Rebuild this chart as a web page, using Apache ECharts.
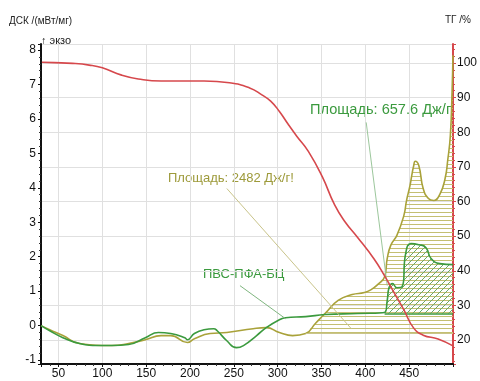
<!DOCTYPE html>
<html><head><meta charset="utf-8">
<script src="https://cdn.jsdelivr.net/npm/echarts@6/dist/echarts.min.js"></script>
<style>html,body{margin:0;padding:0;background:#fff}#c{width:480px;height:381px}</style>
</head><body><div id="c"></div>
<script>
// ---- data ----
// TG (%) vs temperature
const tgX = [31,45,66,85,100,122,141,167,216,245,268,282,292,302,312,322,335,351,365,377,391,410,422,433,444,455,466,483,500];
const tgY = [100.2,100.1,99.9,99.4,98.6,96.5,95.4,94.8,94.8,94.3,92.8,90.8,89.0,86.0,82.3,78.8,74.5,67.1,59.0,54.1,49.7,43.4,38.5,33.6,28.7,23.5,21.4,20.3,18.3];
// DSC green (ПВС-ПФА-БЦ)
const greenX = [30,40,55,74,96,111,130,149,164,178,194,197,205,216,227,231,242,253,261,276,287,302,309,332,354,391,422,425,427,431,436,442,446,452,461,469,475,485,500];
const greenY = [0,-0.15,-0.35,-0.52,-0.58,-0.58,-0.55,-0.35,-0.2,-0.23,-0.35,-0.41,-0.23,-0.12,-0.09,-0.15,-0.44,-0.64,-0.58,-0.29,-0.06,0.17,0.23,0.26,0.32,0.35,0.38,0.73,1.1,1.22,1.1,1.13,2.09,2.38,2.35,2.27,1.95,1.8,1.77];
// DSC olive
const oliveX = [30,40,55,74,111,130,149,167,178,197,205,223,242,272,287,302,317,332,343,354,369,385,399,407,414,422,425,429,436,444,447,451,453,455,457,461,466,472,478,485,491,494,497,499,500];
const oliveY = [0,-0.12,-0.29,-0.52,-0.58,-0.52,-0.41,-0.29,-0.29,-0.49,-0.38,-0.23,-0.2,-0.09,-0.06,-0.2,-0.29,-0.23,0.06,0.35,0.73,0.9,0.96,1.05,1.19,1.42,1.95,2.33,2.62,3.2,3.63,4.07,4.36,4.62,4.77,4.65,3.98,3.69,3.63,3.81,4.27,4.8,5.52,6.83,7.85];
// integration ranges / baselines
const oliveAreaFrom = 332, oliveBase = -0.22;
const greenAreaFrom = 422, greenBase = 0.35;
// annotation leader lines (data coords)
const leaderOlive = [[242,3.98],[384,-0.09]];
const leaderGreenArea = [[401,5.9],[425,1.16]];
const leaderGreenName = [[257,1.16],[309,0.2]];
// axis ranges
const xMin = 30, xMax = 500;
const dscMin = -1.115, dscMax = 8.176;
const tgMin = 13.07, tgMax = 105.49;

const zip = (a,b)=>a.map((v,i)=>[v,b[i]]);
const sub = (a,b,from)=>zip(a,b).filter(p=>p[0]>=from);

function hPattern(color, gap){const c=document.createElement('canvas');c.width=8;c.height=gap;const g=c.getContext('2d');g.fillStyle=color;g.fillRect(0,0,8,1);return c;}
function dPattern(color, s){const c=document.createElement('canvas');c.width=s;c.height=s;const g=c.getContext('2d');g.strokeStyle=color;g.lineWidth=1;g.beginPath();g.moveTo(-1,s+1);g.lineTo(s+1,-1);g.stroke();return c;}

const RED='#d6484c', GREEN='#3b9a3e', OLIVE='#a9a23a', OLIVE_T='#9d9a3a';
const FONT='"Liberation Sans",Arial,sans-serif';

const chart = echarts.init(document.getElementById('c'), null, {renderer:'canvas'});
chart.setOption({
  animation:false,
  backgroundColor:'#fff',
  grid:{left:41,right:20,top:44,bottom:17,containLabel:false},
  xAxis:{type:'value',min:xMin,max:xMax,splitNumber:10,
    axisLine:{onZero:false,lineStyle:{color:'#111',width:2}},
    axisTick:{show:true,length:3,lineStyle:{color:'#111'}},
    minorTick:{show:true,splitNumber:5,length:2,lineStyle:{color:'#333'}},
    axisLabel:{showMinLabel:false,showMaxLabel:false,color:'#111',fontSize:12,fontFamily:FONT,margin:4},
    splitLine:{show:true,lineStyle:{color:'#e0e0e0',width:1}}},
  yAxis:[
    {type:'value',min:dscMin,max:dscMax,splitNumber:9,position:'left',
     axisLine:{show:true,onZero:false,lineStyle:{color:'#111',width:2}},
     axisTick:{show:true,length:3,lineStyle:{color:'#111'}},
     minorTick:{show:true,splitNumber:5,length:2,lineStyle:{color:'#333'}},
     axisLabel:{showMinLabel:false,showMaxLabel:false,color:'#111',fontSize:12,fontFamily:FONT,margin:5},
     splitLine:{show:false}},
    {type:'value',min:tgMin,max:tgMax,splitNumber:9,position:'right',
     axisLine:{show:true,onZero:false,lineStyle:{color:RED,width:2}},
     axisTick:{show:true,length:3,lineStyle:{color:RED}},
     minorTick:{show:true,splitNumber:5,length:2,lineStyle:{color:RED}},
     axisLabel:{showMinLabel:false,showMaxLabel:false,color:'#111',fontSize:12,fontFamily:FONT,margin:4},
     splitLine:{show:true,lineStyle:{color:'#e0e0e0',width:1}}}
  ],
  graphic:[
    {type:'text',left:9,top:16,style:{text:'ДСК /(мВт/мг)',font:'10px '+FONT,fill:'#222'}},
    {type:'text',left:41,top:35,style:{text:'↑ экзо',font:'11px '+FONT,fill:'#222'}},
    {type:'text',left:445,top:15,style:{text:'ТГ /%',font:'10px '+FONT,fill:'#222'}},
    {type:'text',left:310,top:102,style:{text:'Площадь: 657.6 Дж/г',font:'14.6px '+FONT,fill:GREEN}},
    {type:'text',left:168,top:172,style:{text:'Площадь: 2482 Дж/г!',font:'13px '+FONT,fill:OLIVE_T}},
    {type:'text',left:203,top:268,style:{text:'ПВС-ПФА-БЦ',font:'13px '+FONT,fill:GREEN}}
  ],
  series:[
    {type:'line',name:'olive-area',yAxisIndex:0,data:sub(oliveX,oliveY,oliveAreaFrom),showSymbol:false,smooth:true,
     lineStyle:{width:0},areaStyle:{color:{image:hPattern('#c4bf72',4),repeat:'repeat'},origin:oliveBase,opacity:1},z:1,silent:true,
     markLine:{silent:true,symbol:'none',label:{show:false},lineStyle:{color:'#c9c48a',width:1,type:'solid'},
       data:[[{coord:[leaderOlive[0][0],leaderOlive[0][1]]},{coord:[leaderOlive[1][0],leaderOlive[1][1]]}],
             [{coord:[oliveAreaFrom,oliveBase]},{coord:[xMax,oliveBase]}]]}},
    {type:'line',name:'green-area',yAxisIndex:0,data:sub(greenX,greenY,greenAreaFrom),showSymbol:false,smooth:true,
     lineStyle:{width:0},areaStyle:{color:{image:dPattern('#6aa86a',6),repeat:'repeat'},origin:greenBase,opacity:1},z:2,silent:true,
     markLine:{silent:true,symbol:'none',label:{show:false},lineStyle:{type:'solid'},
       data:[[{coord:[greenAreaFrom,greenBase],lineStyle:{color:GREEN,width:1.5,type:'solid'}},{coord:[xMax,greenBase]}],
             [{coord:[leaderGreenArea[0][0],leaderGreenArea[0][1]],lineStyle:{color:'#9cc79c',width:1,type:'solid'}},{coord:[leaderGreenArea[1][0],leaderGreenArea[1][1]]}],
             [{coord:[leaderGreenName[0][0],leaderGreenName[0][1]],lineStyle:{color:'#7fb67f',width:1,type:'solid'}},{coord:[leaderGreenName[1][0],leaderGreenName[1][1]]}]]}},
    {type:'line',name:'TG',yAxisIndex:1,data:zip(tgX,tgY),showSymbol:false,smooth:true,lineStyle:{color:RED,width:1.6},z:5},
    {type:'line',name:'olive',yAxisIndex:0,data:zip(oliveX,oliveY),showSymbol:false,smooth:true,lineStyle:{color:OLIVE,width:1.6},z:4},
    {type:'line',name:'ПВС-ПФА-БЦ',yAxisIndex:0,data:zip(greenX,greenY),showSymbol:false,smooth:true,lineStyle:{color:GREEN,width:1.6},z:4}
  ]
});
</script></body></html>
